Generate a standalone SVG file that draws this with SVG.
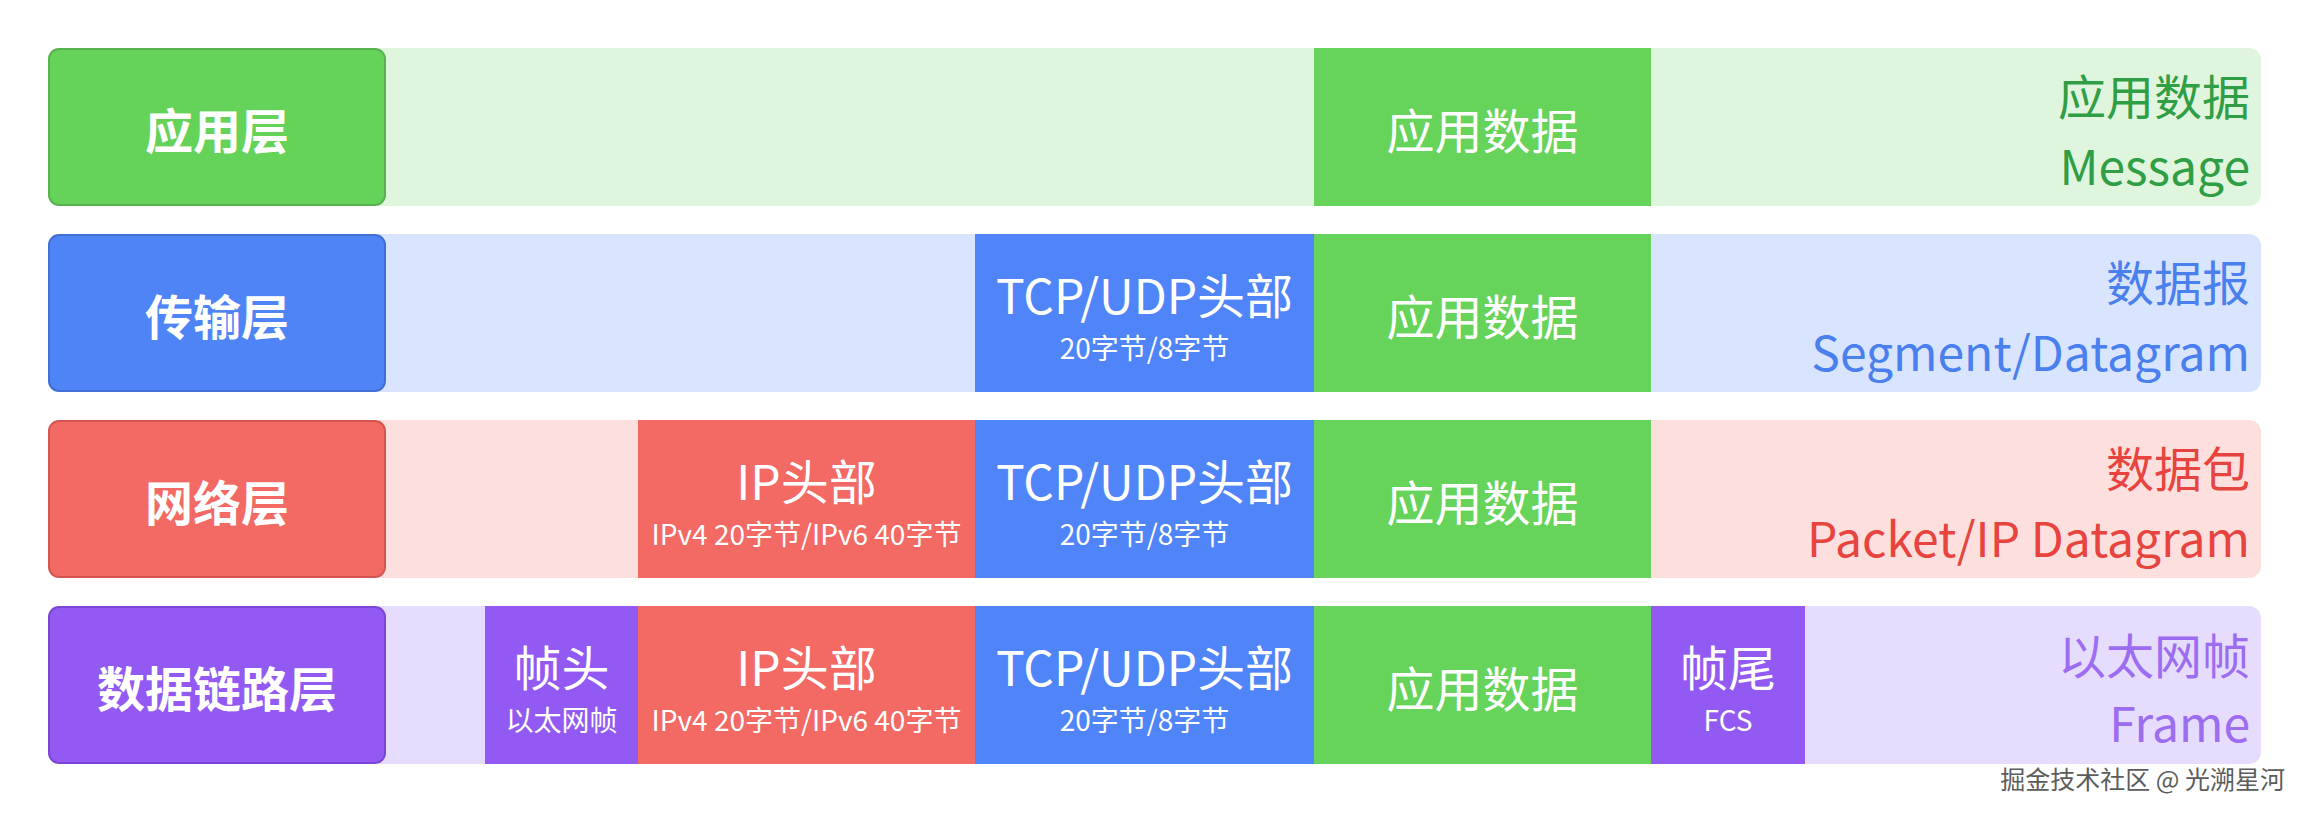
<svg xmlns="http://www.w3.org/2000/svg" width="2310" height="816" viewBox="0 0 2310 816">
<style>
text{font-family:"Noto Sans CJK SC","Noto Sans",sans-serif}
.lbl{font-size:48px;font-weight:700;fill:#fff;text-anchor:middle}
.blk{font-size:48px;font-weight:400;fill:#fff;text-anchor:middle}
.sub{font-size:28px;font-weight:400;fill:#fff;text-anchor:middle}
.rt{font-size:48px;font-weight:400;text-anchor:end}
.g-l{fill:#65D25A;stroke:#58B34E;stroke-width:2}
.b-l{fill:#4F84F7;stroke:#416FD6;stroke-width:2}
.r-l{fill:#F36A64;stroke:#D45550;stroke-width:2}
.p-l{fill:#935AF3;stroke:#7B46D6;stroke-width:2}
.g{fill:#66D35B}.b{fill:#4F85F8}.r{fill:#F36A64}.p{fill:#935AF3}
.g-bg{fill:#DFF5DE}.b-bg{fill:#D9E5FE}.r-bg{fill:#FDE0DE}.p-bg{fill:#E6DCFD}
.wm{font-size:25px;fill:#5c5c5c;stroke:#fff;stroke-width:2.5px;paint-order:stroke;text-anchor:end}
</style>
<rect width="2310" height="816" fill="#fff"/>
<g id="connectors"/>

<g id="row-app">
<rect class="g-bg" x="370" y="48" width="1891" height="158" rx="12"/>
<rect class="g-l" x="49" y="49" width="336" height="156" rx="10"/>
<text class="lbl" x="217" y="149">应用层</text>
<rect class="g" x="1314" y="48" width="337" height="158"/>
<text class="blk" x="1482.5" y="149">应用数据</text>
<text class="rt" x="2250" y="115" fill="#2F9E44">应用数据</text>
<text class="rt" x="2250" y="185" fill="#2F9E44">Message</text>
</g>

<g id="row-transport">
<rect class="b-bg" x="370" y="234" width="1891" height="158" rx="12"/>
<rect class="b-l" x="49" y="235" width="336" height="156" rx="10"/>
<text class="lbl" x="217" y="335">传输层</text>
<rect class="b" x="975" y="234" width="339" height="158"/>
<text class="blk" x="1144.5" y="314">TCP/UDP头部</text>
<text class="sub" x="1144.5" y="359">20字节/8字节</text>
<rect class="g" x="1314" y="234" width="337" height="158"/>
<text class="blk" x="1482.5" y="335">应用数据</text>
<text class="rt" x="2250" y="301" fill="#4A7FEE">数据报</text>
<text class="rt" x="2250" y="371" fill="#4A7FEE">Segment/Datagram</text>
</g>

<g id="row-network">
<rect class="r-bg" x="370" y="420" width="1891" height="158" rx="12"/>
<rect class="r-l" x="49" y="421" width="336" height="156" rx="10"/>
<text class="lbl" x="217" y="521">网络层</text>
<rect class="r" x="638" y="420" width="337" height="158"/>
<text class="blk" x="806.5" y="500">IP头部</text>
<text class="sub" x="806.5" y="545">IPv4 20字节/IPv6 40字节</text>
<rect class="b" x="975" y="420" width="339" height="158"/>
<text class="blk" x="1144.5" y="500">TCP/UDP头部</text>
<text class="sub" x="1144.5" y="545">20字节/8字节</text>
<rect class="g" x="1314" y="420" width="337" height="158"/>
<text class="blk" x="1482.5" y="521">应用数据</text>
<text class="rt" x="2250" y="487" fill="#E8443F">数据包</text>
<text class="rt" x="2250" y="557" fill="#E8443F">Packet/IP Datagram</text>
</g>

<g id="row-datalink">
<rect class="p-bg" x="370" y="606" width="1891" height="158" rx="12"/>
<rect class="p-l" x="49" y="607" width="336" height="156" rx="10"/>
<text class="lbl" x="217" y="707">数据链路层</text>
<rect class="p" x="485" y="606" width="153" height="158"/>
<text class="blk" x="561.5" y="686">帧头</text>
<text class="sub" x="561.5" y="731">以太网帧</text>
<rect class="r" x="638" y="606" width="337" height="158"/>
<text class="blk" x="806.5" y="686">IP头部</text>
<text class="sub" x="806.5" y="731">IPv4 20字节/IPv6 40字节</text>
<rect class="b" x="975" y="606" width="339" height="158"/>
<text class="blk" x="1144.5" y="686">TCP/UDP头部</text>
<text class="sub" x="1144.5" y="731">20字节/8字节</text>
<rect class="g" x="1314" y="606" width="337" height="158"/>
<text class="blk" x="1482.5" y="707">应用数据</text>
<rect class="p" x="1651" y="606" width="154" height="158"/>
<text class="blk" x="1728" y="686">帧尾</text>
<text class="sub" x="1728" y="731">FCS</text>
<text class="rt" x="2250" y="674" fill="#9C6DF0">以太网帧</text>
<text class="rt" x="2250" y="742" fill="#9C6DF0">Frame</text>
</g>

<text class="wm" x="2285" y="789">掘金技术社区 @ 光溯星河</text>
</svg>
